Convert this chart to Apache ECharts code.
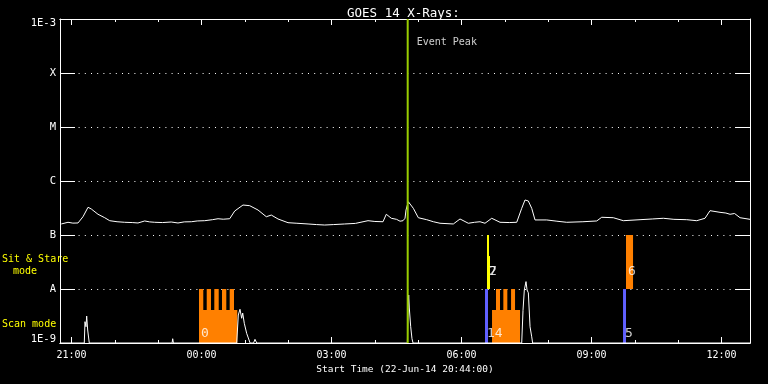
<!DOCTYPE html>
<html>
<head>
<meta charset="utf-8">
<script src="https://cdn.jsdelivr.net/npm/echarts@6/dist/echarts.min.js"></script>
<style>
html,body{margin:0;padding:0;background:#000;}
#c{width:768px;height:384px;}
</style>
</head>
<body>
<div id="c"></div>
<script>
// ---- Data (time in hours from 00:00 22-Jun-14; values >24 are the next day) ----
const startLabel = 'Start Time (22-Jun-14 20:44:00)';
const titleText = 'GOES 14 X-Rays:';
const xStart = 20 + 44 / 60;
const xEnd = 36.656;
const majorHours = [21, 24, 27, 30, 33, 36];
const minorHours = [21, 22, 23, 24, 25, 26, 27, 28, 29, 30, 31, 32, 33, 34, 35, 36];
const yLevels = [1e-9, 1e-8, 1e-7, 1e-6, 1e-5, 1e-4, 1e-3];
const yLevelNames = ['1E-9', 'A', 'B', 'C', 'M', 'X', '1E-3'];

const goesTime = [20.763, 20.918, 21.030, 21.149, 21.264, 21.380, 21.456, 21.610, 21.765, 21.880,
  22.050, 22.226, 22.400, 22.533, 22.688, 22.800, 22.919, 23.100, 23.300, 23.456,
  23.600, 23.763, 23.900, 24.073, 24.250, 24.380, 24.500, 24.649, 24.765, 24.956,
  25.111, 25.303, 25.494, 25.610, 25.764, 25.995, 26.200, 26.457, 26.650, 26.842,
  27.050, 27.303, 27.550, 27.841, 28.000, 28.187, 28.263, 28.379, 28.500, 28.580,
  28.649, 28.695, 28.718, 28.771, 28.887, 29.002, 29.196, 29.350, 29.503, 29.810,
  29.964, 30.156, 30.300, 30.426, 30.541, 30.696, 30.887, 31.100, 31.273, 31.388,
  31.464, 31.540, 31.619, 31.695, 31.965, 32.200, 32.427, 32.800, 33.119, 33.234,
  33.502, 33.733, 34.118, 34.400, 34.656, 34.900, 35.196, 35.427, 35.618, 35.733,
  35.964, 36.100, 36.195, 36.300, 36.426, 36.656];
const goesFlux = [1.60e-7, 1.72e-7, 1.66e-7, 1.67e-7, 2.18e-7, 3.26e-7, 3.03e-7, 2.42e-7, 2.09e-7, 1.84e-7,
  1.76e-7, 1.72e-7, 1.70e-7, 1.67e-7, 1.82e-7, 1.75e-7, 1.72e-7, 1.70e-7, 1.74e-7, 1.67e-7,
  1.75e-7, 1.76e-7, 1.82e-7, 1.84e-7, 1.92e-7, 2.00e-7, 1.96e-7, 2.00e-7, 2.78e-7, 3.59e-7,
  3.49e-7, 2.90e-7, 2.18e-7, 2.34e-7, 1.98e-7, 1.69e-7, 1.65e-7, 1.60e-7, 1.56e-7, 1.53e-7,
  1.56e-7, 1.60e-7, 1.64e-7, 1.84e-7, 1.78e-7, 1.76e-7, 2.42e-7, 2.04e-7, 1.95e-7, 1.80e-7,
  1.84e-7, 2.04e-7, 2.90e-7, 4.14e-7, 3.12e-7, 2.09e-7, 1.92e-7, 1.76e-7, 1.65e-7, 1.60e-7,
  1.98e-7, 1.65e-7, 1.72e-7, 1.76e-7, 1.65e-7, 2.04e-7, 1.72e-7, 1.70e-7, 1.72e-7, 3.12e-7,
  4.45e-7, 4.27e-7, 3.12e-7, 1.90e-7, 1.90e-7, 1.80e-7, 1.72e-7, 1.76e-7, 1.82e-7, 2.13e-7,
  2.09e-7, 1.84e-7, 1.92e-7, 1.98e-7, 2.04e-7, 1.95e-7, 1.92e-7, 1.84e-7, 2.04e-7, 2.82e-7,
  2.63e-7, 2.55e-7, 2.42e-7, 2.50e-7, 2.09e-7, 1.95e-7];

// lower-band trace (spikes above the 1E-9 floor)
const lowTime = [20.733, 21.294, 21.310, 21.333, 21.349, 21.372, 21.390, 21.409,
  23.320, 23.334, 23.350,
  24.811, 24.848, 24.887, 24.926, 24.949, 24.986, 25.018, 25.041, 25.079, 25.120, 25.157, 25.200, 25.233, 25.273,
  28.750, 28.764, 28.780, 28.794, 28.826, 28.856, 28.880,
  31.388, 31.418, 31.448, 31.487, 31.511, 31.541, 31.580, 31.619, 31.640,
  36.656];
const lowFlux = [1e-9, 1e-9, 2.48e-9, 2.0e-9, 3.16e-9, 1.74e-9, 1.74e-9, 1e-9,
  1e-9, 1.2e-9, 1e-9,
  1e-9, 3.3e-9, 4.21e-9, 2.87e-9, 3.59e-9, 2.32e-9, 2.15e-9, 1.51e-9, 1.24e-9, 1.0e-9, 1.06e-9, 1.0e-9, 1.17e-9, 1e-9,
  1e-9, 4.45e-9, 7.74e-9, 4.45e-9, 2.0e-9, 1.2e-9, 1e-9,
  1e-9, 4.0e-9, 9.58e-9, 1.37e-8, 9.58e-9, 8.5e-9, 2.0e-9, 1.3e-9, 1e-9,
  1e-9];

// observation blocks
const obsStart = [23.941, 23.941, 24.119, 24.294, 24.472, 24.649,
  30.703, 30.795, 30.964, 31.142,
  30.541, 33.726,
  30.587, 30.587,
  33.795];
const obsEnd = [24.825, 24.040, 24.218, 24.396, 24.571, 24.749,
  31.349, 30.887, 31.056, 31.234,
  30.610, 33.795,
  30.633, 30.656,
  33.957];
const obsLow = [1e-9, 1e-9, 1e-9, 1e-9, 1e-9, 1e-9,
  1e-9, 1e-9, 1e-9, 1e-9,
  1e-9, 1e-9,
  1e-8, 1e-8,
  1e-8];
const obsHigh = [4.08e-9, 1e-8, 1e-8, 1e-8, 1e-8, 1e-8,
  4.08e-9, 1e-8, 1e-8, 1e-8,
  1e-8, 1e-8,
  1e-7, 4.08e-8,
  1e-7];
const obsKind = ['orange', 'orange', 'orange', 'orange', 'orange', 'orange',
  'orange', 'orange', 'orange', 'orange',
  'blue', 'blue',
  'yellow', 'yellow',
  'orange'];

const obsLabelText = ['0', '14', '7', '2', '6', '5'];
const obsLabelTime = [23.941, 30.541, 30.587, 30.587, 33.795, 33.726];
const obsLabelLevel = [1.51e-9, 1.51e-9, 2.07e-8, 2.07e-8, 2.07e-8, 1.51e-9];

const eventPeakTime = 28.757;
const eventPeakLabelLevel = 3.67e-4;
const eventPeakText = 'Event Peak';

// ---- Styles ----
const FONT = 'DejaVu Sans Mono';
const kindColor = { orange: '#ff8000', blue: '#6060ff', yellow: '#ffff00' };

function hourLabel(v) {
  const h = Math.round(v) % 24;
  return (h < 10 ? '0' : '') + h + ':00';
}

const chart = echarts.init(document.getElementById('c'), null, { renderer: 'canvas' });

const baseX = {
  type: 'value', min: xStart, max: xEnd,
  axisLine: { show: true, lineStyle: { color: '#fff', width: 1 } },
  splitLine: { show: false },
};

const option = {
  backgroundColor: '#000',
  animation: false,
  title: {
    text: titleText, left: 342, top: 2,
    textStyle: { color: '#fff', fontFamily: FONT, fontSize: 12.5, fontWeight: 'normal' }
  },
  grid: { left: 60, right: 18, top: 19, bottom: 41 },
  xAxis: [
    Object.assign({}, baseX, {
      position: 'bottom',
      axisTick: { show: true, inside: true, length: 6, customValues: majorHours, lineStyle: { color: '#fff' } },
      axisLabel: { show: true, customValues: majorHours, formatter: hourLabel, color: '#fff', fontFamily: FONT, fontSize: 10, margin: 7 },
      name: startLabel, nameLocation: 'middle', nameGap: 20,
      nameTextStyle: { color: '#fff', fontFamily: FONT, fontSize: 9.5 }
    }),
    Object.assign({}, baseX, {
      position: 'bottom',
      axisTick: { show: true, inside: true, length: 3, customValues: minorHours, lineStyle: { color: '#fff' } },
      axisLabel: { show: false }
    }),
    Object.assign({}, baseX, {
      position: 'top',
      axisTick: { show: true, inside: true, length: 6, customValues: majorHours, lineStyle: { color: '#fff' } },
      axisLabel: { show: false }
    }),
    Object.assign({}, baseX, {
      position: 'top',
      axisTick: { show: true, inside: true, length: 3, customValues: minorHours, lineStyle: { color: '#fff' } },
      axisLabel: { show: false }
    })
  ],
  yAxis: [
    {
      type: 'log', logBase: 10, min: yLevels[0], max: yLevels[yLevels.length - 1], position: 'left',
      axisLine: { show: true, lineStyle: { color: '#fff' } },
      axisTick: { show: true, inside: true, length: 15, lineStyle: { color: '#fff' } },
      axisLabel: {
        color: '#fff', fontFamily: FONT, fontSize: 10.5, margin: 4,
        formatter: function (v) {
          const e = Math.round(Math.log10(v));
          const idx = yLevels.findIndex(l => Math.round(Math.log10(l)) === e);
          const name = idx >= 0 ? yLevelNames[idx] : '';
          if (idx === yLevels.length - 1) return '{t|' + name + '}';
          if (idx === 0) return '{b|' + name + '}';
          return name;
        },
        rich: {
          t: { color: '#fff', fontFamily: FONT, fontSize: 10.5, padding: [8, 0, 0, 0] },
          b: { color: '#fff', fontFamily: FONT, fontSize: 10.5, padding: [0, 0, 8, 0] }
        }
      },
      splitLine: { show: true, lineStyle: { color: '#fff', width: 1, type: [1, 5.2] } }
    },
    {
      type: 'log', logBase: 10, min: yLevels[0], max: yLevels[yLevels.length - 1], position: 'right',
      axisLine: { show: true, lineStyle: { color: '#fff' } },
      axisTick: { show: true, inside: true, length: 15, lineStyle: { color: '#fff' } },
      axisLabel: { show: false },
      splitLine: { show: false }
    }
  ],
  graphic: [
    { type: 'text', left: 2, top: 254, style: { text: 'Sit & Stare', fill: '#ffff00', font: '10px "' + FONT + '"' } },
    { type: 'text', left: 13, top: 266, style: { text: 'mode', fill: '#ffff00', font: '10px "' + FONT + '"' } },
    { type: 'text', left: 2, top: 319, style: { text: 'Scan mode', fill: '#ffff00', font: '10px "' + FONT + '"' } }
  ],
  series: [
    {
      type: 'custom', name: 'obs', xAxisIndex: 0, yAxisIndex: 0, clip: true, z: 3,
      data: obsStart.map((s, i) => [s, obsEnd[i], obsLow[i], obsHigh[i]]),
      encode: { x: [0, 1], y: [2, 3] },
      renderItem: function (params, api) {
        const p0 = api.coord([api.value(0), api.value(3)]);
        const p1 = api.coord([api.value(1), api.value(2)]);
        return {
          type: 'rect',
          shape: { x: p0[0], y: p0[1], width: p1[0] - p0[0], height: p1[1] - p0[1] },
          style: { fill: kindColor[obsKind[params.dataIndex]] }
        };
      }
    },
    {
      type: 'line', name: 'low', xAxisIndex: 0, yAxisIndex: 0, z: 4,
      data: lowTime.map((t, i) => [t, lowFlux[i]]),
      showSymbol: false, symbol: 'none',
      lineStyle: { color: '#fff', width: 1 }
    },
    {
      type: 'line', name: 'goes', xAxisIndex: 0, yAxisIndex: 0, z: 4,
      data: goesTime.map((t, i) => [t, goesFlux[i]]),
      showSymbol: false, symbol: 'none',
      lineStyle: { color: '#fff', width: 1 }
    },
    {
      type: 'scatter', name: 'obsLabels', xAxisIndex: 0, yAxisIndex: 0, z: 6,
      symbolSize: 0,
      data: obsLabelTime.map((t, i) => ({ value: [t, obsLabelLevel[i]], name: obsLabelText[i] })),
      label: { show: true, position: 'right', distance: 2, formatter: '{b}', color: '#fff', fontFamily: FONT, fontSize: 13 }
    },
    {
      type: 'line', name: 'peak', xAxisIndex: 0, yAxisIndex: 0, z: 7,
      data: [[eventPeakTime, yLevels[0]], [eventPeakTime, yLevels[yLevels.length - 1]]],
      showSymbol: false, symbol: 'none',
      lineStyle: { color: '#99cc00', width: 2 }
    },
    {
      type: 'scatter', name: 'peakLabel', xAxisIndex: 0, yAxisIndex: 0, z: 7,
      symbolSize: 0,
      data: [{ value: [eventPeakTime, eventPeakLabelLevel], name: eventPeakText }],
      label: { show: true, position: 'right', distance: 9, formatter: '{b}', color: '#fff', fontFamily: FONT, fontSize: 10 }
    }
  ]
};
chart.setOption(option);
</script>
</body>
</html>
